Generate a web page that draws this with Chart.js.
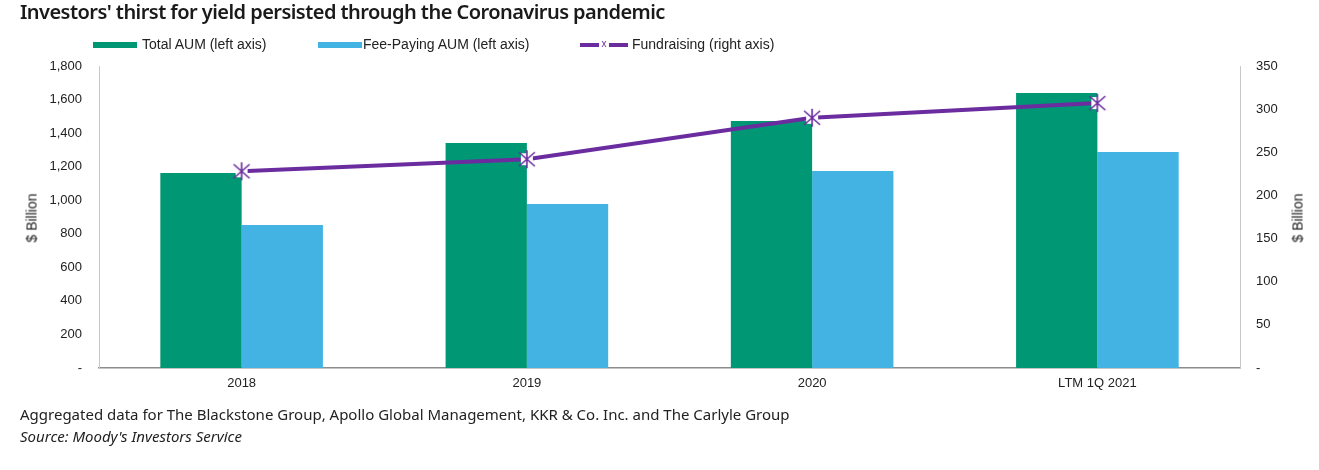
<!DOCTYPE html>
<html>
<head>
<meta charset="utf-8">
<script src="https://cdn.jsdelivr.net/npm/chart.js@4"></script>
<style>
  body { margin: 0; background: #fff; }
  #wrap { position: relative; width: 1319px; height: 470px; overflow: hidden; }
  #chart { position: absolute; left: 0; top: 0; }
  .title { position: absolute; left: 20px; top: -2px; font: 600 20px "Noto Sans", sans-serif; color: #1a1a1a; letter-spacing: -0.55px; white-space: nowrap; }
  .legend { position: absolute; top: 36px; font: 14px "Liberation Sans", Arial, sans-serif; color: #222; white-space: nowrap; }
  .swatch { position: absolute; top: 6px; width: 44px; height: 6px; }
  .legtxt { position: absolute; top: 0; }
  .ytitle { position: absolute; font: 14px "Liberation Sans", Arial, sans-serif; color: #222; transform: rotate(-90deg); transform-origin: center; white-space: nowrap; }
  .foot { position: absolute; left: 20px; font: 15px "Noto Sans", sans-serif; color: #222; letter-spacing: 0px; white-space: nowrap; }
</style>
</head>
<body>
<div id="wrap">
  <canvas id="chart" width="1319" height="470"></canvas>
  <div class="title">Investors' thirst for yield persisted through the Coronavirus pandemic</div>

  <div class="legend" style="left:0;width:1319px;height:20px;">
    <div class="swatch" style="left:93px;background:#009774;"></div>
    <div class="legtxt" style="left:142px;">Total AUM (left axis)</div>
    <div class="swatch" style="left:318px;background:#42b3e3;"></div>
    <div class="legtxt" style="left:363px;">Fee-Paying AUM (left axis)</div>
    <div style="position:absolute;left:580px;top:7px;width:19px;height:4px;background:#6a2c9f;"></div>
    <div style="position:absolute;left:599px;top:1px;width:10px;line-height:14px;text-align:center;color:#6a2c9f;font-size:10px;">x</div>
    <div style="position:absolute;left:609px;top:7px;width:19px;height:4px;background:#6a2c9f;"></div>
    <div class="legtxt" style="left:632px;">Fundraising (right axis)</div>
  </div>

  <div class="ytitle" style="left:7px;top:210px;">$ Billion</div>
  <div class="ytitle" style="left:1273px;top:210px;">$ Billion</div>

  <div class="foot" style="top:404px;">Aggregated data for The Blackstone Group, Apollo Global Management, KKR &amp; Co. Inc. and The Carlyle Group</div>
  <div class="foot" style="top:426px;font-style:italic;">Source: Moody's Investors Service</div>
</div>
<script>
var categories = ['2018', '2019', '2020', 'LTM 1Q 2021'];
var totalAum = [1162, 1341, 1472, 1639];
var feePayingAum = [852, 977, 1174, 1287];
var fundraising = [228, 242, 290, 307];
var leftTicks = [0, 200, 400, 600, 800, 1000, 1200, 1400, 1600, 1800];
var rightTicks = [0, 50, 100, 150, 200, 250, 300, 350];

// marker: white square with purple asterisk-like cross
function makeMarker() {
  var c = document.createElement('canvas');
  c.width = 20; c.height = 20;
  var g = c.getContext('2d');
  g.fillStyle = '#ffffff';
  g.fillRect(4, 4, 12, 12);
  g.strokeStyle = '#6a2c9f';
  g.lineWidth = 1.6;
  g.beginPath();
  g.moveTo(2, 3); g.lineTo(18, 17);
  g.moveTo(18, 3); g.lineTo(2, 17);
  g.moveTo(10, 1); g.lineTo(10, 19);
  g.stroke();
  return c;
}
var marker = makeMarker();

function fmt(v) {
  if (v === 0) return '-';
  return v.toLocaleString('en-US');
}

var tickFont = { family: '"Liberation Sans", Arial, sans-serif', size: 13 };

new Chart(document.getElementById('chart'), {
  data: {
    labels: categories,
    datasets: [
      {
        type: 'line',
        label: 'Fundraising (right axis)',
        data: fundraising,
        yAxisID: 'y1',
        borderColor: '#6a2c9f',
        borderWidth: 4,
        pointStyle: marker,
        pointRadius: 10,
        tension: 0,
        order: 0
      },
      {
        type: 'bar',
        label: 'Total AUM (left axis)',
        data: totalAum,
        yAxisID: 'y',
        backgroundColor: '#009774',
        categoryPercentage: 0.57,
        barPercentage: 1,
        order: 1
      },
      {
        type: 'bar',
        label: 'Fee-Paying AUM (left axis)',
        data: feePayingAum,
        yAxisID: 'y',
        backgroundColor: '#42b3e3',
        categoryPercentage: 0.57,
        barPercentage: 1,
        order: 1
      }
    ]
  },
  options: {
    responsive: false,
    animation: false,
    layout: { padding: { top: 66, left: 0, right: 0, bottom: 0 } },
    plugins: { legend: { display: false }, tooltip: { enabled: false } },
    scales: {
      x: {
        grid: { display: false, drawTicks: false },
        border: { display: true, color: '#8c8c8c', width: 1.5 },
        ticks: { font: tickFont, color: '#222', padding: 8 },
        afterFit: function (s) { s.height = 102; }
      },
      y: {
        position: 'left',
        min: 0, max: 1800,
        grid: { display: false, drawTicks: false },
        border: { display: true, color: '#c8c8c8', width: 1 },
        afterBuildTicks: function (s) { s.ticks = leftTicks.map(function (v) { return { value: v }; }); },
        ticks: { font: tickFont, color: '#222', padding: 17, callback: fmt },
        afterFit: function (s) { s.width = 99; }
      },
      y1: {
        position: 'right',
        min: 0, max: 350,
        grid: { display: false, drawTicks: false },
        border: { display: true, color: '#c8c8c8', width: 1 },
        afterBuildTicks: function (s) { s.ticks = rightTicks.map(function (v) { return { value: v }; }); },
        ticks: { font: tickFont, color: '#222', padding: 16, callback: fmt },
        afterFit: function (s) { s.width = 79; }
      }
    }
  }
});
</script>
</body>
</html>
